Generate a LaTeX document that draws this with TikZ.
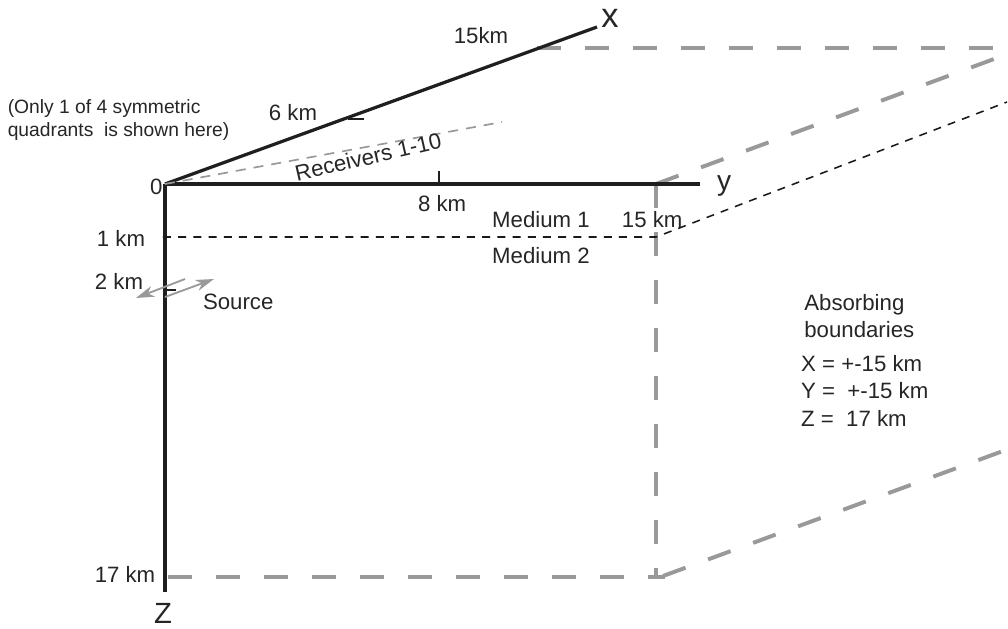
\documentclass[tikz,border=0pt]{standalone}
\usepackage{fontspec}
\setmainfont{Liberation Sans}
\usetikzlibrary{arrows.meta}
\tikzset{
    labelstyle/.style={align=center, font=\fontsize{15.8}{19}\selectfont, text=black!85},
    notestyle/.style={align=left, font=\fontsize{13.7}{16.4}\selectfont, text=black!85},
    axisstyle/.style={line width=2.3pt, black!88},
    tickstyle/.style={line width=1.6pt, black!88},
    boundarystyle/.style={line width=2.8pt, gray!80, dash pattern=on 0.6cm off 0.6cm},
    interfacestyle/.style={line width=1.1pt, black!90, dash pattern=on 0.2cm off 0.18cm},
    receiverstyle/.style={line width=1.2pt, gray!80, dash pattern=on 0.25cm off 0.2cm},
    arrowstyle/.style={-{Stealth[length=13pt, width=8pt, inset=4pt]}, line width=1.3pt, gray!80}
}

\begin{document}
\begin{tikzpicture}[>=Latex]

        \useasboundingbox (-4.125,-11.1) rectangle (21.075,4.6);

        % --- Corners ---
        \coordinate (origin) at (0,0);
        \coordinate (xend) at (10.8,3.925);
        \coordinate (yend) at (13.375,0);
        \coordinate (zend) at (0,-10.2);
        \coordinate (corner) at (12.275,0);
        \coordinate (interface) at (12.275,-1.325);
        \coordinate (bottom) at (12.275,-9.825);

        % --- Absorbing boundaries ---
        \draw[boundarystyle] (9.3,3.4) -- (20.7,3.4);
        \draw[boundarystyle] (corner) -- (20.725,3.125);
        \draw[boundarystyle] (corner) -- (bottom);
        \draw[boundarystyle] (0.075,-9.825) -- (12.5,-9.825);
        \draw[boundarystyle] (12.45,-9.8) -- (20.95,-6.675);

        % --- Axes ---
        \draw[axisstyle] (origin) -- (xend);
        \draw[axisstyle] (origin) -- (yend);
        \draw[axisstyle] (origin) -- (zend);

        % --- Ticks ---
        \draw[tickstyle] (4.575,1.625) -- (4.975,1.625);
        \draw[tickstyle] (6.85,0) -- (6.85,0.325);
        \draw[tickstyle] (0,-2.65) -- (0.275,-2.65);

        % --- Medium interface ---
        \draw[interfacestyle] (-0.05,-1.325) -- (interface) -- (21.05,2.05);

        % --- Receivers and source ---
        \draw[receiverstyle] (origin) -- (8.425,1.55);
        \draw[arrowstyle] (0.5,-2.375) -- (-0.725,-2.85);
        \draw[arrowstyle] (0,-2.825) -- (1.225,-2.375);

        % --- Axis labels ---
        \node[font=\fontsize{24.5}{28}\selectfont, text=black!85] (xlabel) at (11.125,4.13) {x};
        \node[font=\fontsize{20}{24}\selectfont, text=black!85] (ylabel) at (13.98,-0.06) {y};
        \node[font=\fontsize{20.8}{24}\selectfont, text=black!85, inner sep=0pt] (zlabel) at (-0.05,-10.74) {Z};

        % --- Distances ---
        \node[labelstyle] (zero) at (-0.22,-0.08) {0};
        \node[labelstyle] (xfar) at (7.9,3.7) {15km};
        \node[labelstyle] (xnear) at (3.2,1.78) {6 km};
        \node[labelstyle] (ynear) at (6.93,-0.5) {8 km};
        \node[labelstyle] (yfar) at (12.18,-0.9) {15 km};
        \node[labelstyle] (zone) at (-1.1,-1.35) {1 km};
        \node[labelstyle] (ztwo) at (-1.15,-2.43) {2 km};
        \node[labelstyle] (zfar) at (-1.0,-9.76) {17 km};

        % --- Other texts ---
        \node[notestyle, anchor=west] (note) at (-4.055,1.61) {(Only 1 of 4 symmetric\\quadrants\ \ is shown here)};
        \node[labelstyle, rotate=13] (receivers) at (5.08,0.68) {Receivers 1-10};
        \node[labelstyle] (source) at (1.83,-2.95) {Source};
        \node[labelstyle] (mediumone) at (9.4,-0.88) {Medium 1};
        \node[labelstyle] (mediumtwo) at (9.4,-1.78) {Medium 2};
        \node[labelstyle, align=left, anchor=west] (absorbing) at (15.86,-3.31) {Absorbing\\boundaries};
        \node[labelstyle, anchor=west] (xbound) at (15.78,-4.5) {X = +-15 km};
        \node[labelstyle, anchor=west] (ybound) at (15.78,-5.17) {Y =\ \ +-15 km};
        \node[labelstyle, anchor=west] (zbound) at (15.78,-5.85) {Z =\ \ 17 km};

\end{tikzpicture}
\end{document}
